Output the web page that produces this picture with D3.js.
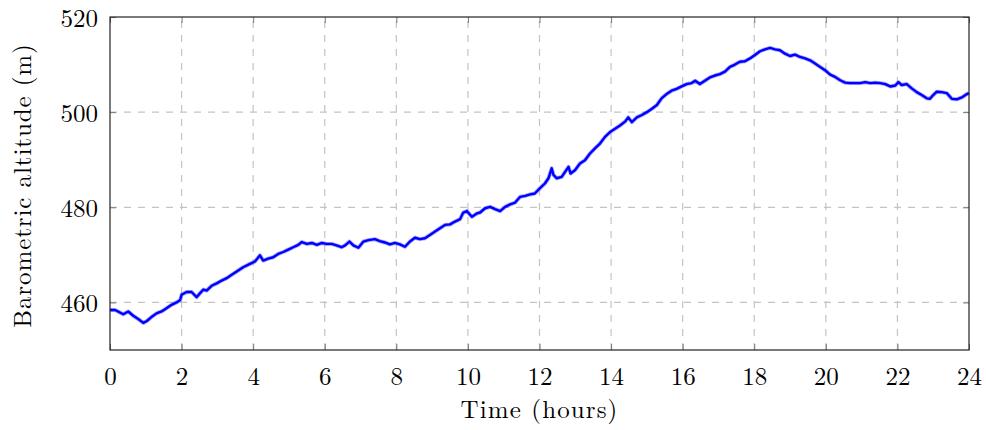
<!DOCTYPE html>
<html>
<head>
<meta charset="utf-8">
<script src="https://cdn.jsdelivr.net/npm/d3@7"></script>
<style>
  body { margin: 0; background: #fff; }
  svg { display: block; }
  text { font-family: "Latin Modern Roman", "Liberation Serif", "Times New Roman", serif; fill: #000; }
</style>
</head>
<body>
<script>
// time in hours and barometric altitude in metres
var hours = [
  0.00, 0.14, 0.25, 0.37, 0.51, 0.65, 0.79, 0.93, 1.03, 1.17, 1.30, 1.44, 1.58, 1.72, 1.86, 1.96,
  2.00, 2.14, 2.28, 2.42, 2.51, 2.61, 2.70, 2.84, 2.98, 3.12, 3.26, 3.40, 3.54, 3.72, 3.91,
  4.05, 4.19, 4.28, 4.42, 4.56, 4.70, 4.84, 4.98, 5.12, 5.26, 5.36, 5.50, 5.64, 5.78, 5.92,
  6.05, 6.19, 6.33, 6.47, 6.57, 6.69, 6.80, 6.94, 7.08, 7.22, 7.40, 7.54, 7.68, 7.82, 7.96,
  8.10, 8.24, 8.38, 8.52, 8.66, 8.80, 8.94, 9.08, 9.22, 9.36, 9.50, 9.64, 9.78, 9.87, 9.97,
  10.11, 10.25, 10.34, 10.48, 10.62, 10.76, 10.90, 11.04, 11.18, 11.32, 11.46, 11.60, 11.74, 11.87,
  12.01, 12.15, 12.25, 12.34, 12.39, 12.48, 12.62, 12.71, 12.81, 12.87, 12.99, 13.13, 13.27, 13.41,
  13.55, 13.69, 13.83, 13.97, 14.11, 14.25, 14.39, 14.48, 14.58, 14.72, 14.86, 15.00, 15.14, 15.28,
  15.41, 15.55, 15.69, 15.83, 15.97, 16.11, 16.25, 16.35, 16.48, 16.62, 16.76, 16.90, 17.04, 17.18,
  17.32, 17.46, 17.60, 17.74, 17.88, 18.02, 18.16, 18.30, 18.44, 18.58, 18.72, 18.86, 19.00, 19.14,
  19.28, 19.42, 19.56, 19.70, 19.84, 19.98, 20.12, 20.26, 20.40, 20.54, 20.68, 20.82, 20.96, 21.10,
  21.24, 21.38, 21.52, 21.66, 21.80, 21.94, 22.03, 22.12, 22.26, 22.40, 22.54, 22.68, 22.82, 22.91,
  23.00, 23.10, 23.24, 23.38, 23.52, 23.66, 23.80, 23.94, 24.00
];
var altitude = [
  458.4, 458.4, 458.0, 457.5, 458.1, 457.2, 456.5, 455.7, 456.1, 457.0, 457.7, 458.1, 458.8, 459.5, 460.0, 460.5,
  461.6, 462.2, 462.2, 461.1, 461.9, 462.7, 462.5, 463.5, 464.0, 464.6, 465.1, 465.8, 466.5, 467.4, 468.1,
  468.6, 469.9, 468.8, 469.2, 469.5, 470.2, 470.6, 471.1, 471.6, 472.1, 472.7, 472.3, 472.5, 472.1, 472.5,
  472.3, 472.3, 472.0, 471.6, 472.0, 472.8, 472.0, 471.5, 472.8, 473.1, 473.3, 472.9, 472.6, 472.2, 472.5,
  472.2, 471.7, 472.8, 473.6, 473.3, 473.5, 474.2, 474.9, 475.6, 476.3, 476.4, 477.0, 477.5, 478.9, 479.2,
  478.0, 478.7, 478.9, 479.8, 480.1, 479.6, 479.2, 480.1, 480.6, 481.0, 482.2, 482.4, 482.7, 482.9,
  484.0, 485.0, 486.1, 488.2, 486.8, 486.1, 486.4, 487.4, 488.5, 487.1, 487.8, 489.2, 489.9, 491.3,
  492.4, 493.4, 494.8, 495.8, 496.5, 497.2, 498.0, 498.9, 497.9, 498.9, 499.4, 500.0, 500.7, 501.5,
  502.9, 503.8, 504.5, 504.9, 505.4, 505.9, 506.1, 506.6, 505.9, 506.6, 507.3, 507.7, 508.0, 508.5,
  509.5, 510.0, 510.6, 510.7, 511.3, 512.0, 512.8, 513.2, 513.5, 513.2, 513.0, 512.3, 511.8, 512.1,
  511.6, 511.3, 510.9, 510.2, 509.5, 508.8, 507.9, 507.4, 506.7, 506.2, 506.1, 506.1, 506.1, 506.3,
  506.1, 506.2, 506.1, 505.9, 505.4, 505.6, 506.3, 505.7, 505.9, 505.0, 504.2, 503.6, 502.9, 502.8,
  503.6, 504.3, 504.2, 504.0, 502.8, 502.7, 503.1, 503.8, 504.0
];
var xTicks = [0, 2, 4, 6, 8, 10, 12, 14, 16, 18, 20, 22, 24];
var yTicks = [460, 480, 500, 520];

function init() {
    var w = 986;
    var h = 430;
    var margin = { top: 17, right: 17, bottom: 80, left: 110 };
    var iw = w - margin.left - margin.right;
    var ih = h - margin.top - margin.bottom;

    var xScale = d3.scaleLinear().domain([0, 24]).range([0, iw]);
    var yScale = d3.scaleLinear().domain([450, 520]).range([ih, 0]);

    var svg = d3.select("body")
                .append("svg")
                .attr("width", w)
                .attr("height", h);

    var g = svg.append("g")
               .attr("transform", "translate(" + margin.left + "," + margin.top + ")");

    // dashed grid
    g.selectAll(".vgrid")
     .data(xTicks.slice(1, -1))
     .enter()
     .append("line")
     .attr("x1", function(d) { return xScale(d); })
     .attr("x2", function(d) { return xScale(d); })
     .attr("y1", ih)
     .attr("y2", 0)
     .attr("stroke", "#c4c4c4")
     .attr("stroke-width", 1.2)
     .attr("stroke-dasharray", "7,7");

    g.selectAll(".hgrid")
     .data(yTicks.slice(0, -1))
     .enter()
     .append("line")
     .attr("x1", 0)
     .attr("x2", iw)
     .attr("y1", function(d) { return yScale(d); })
     .attr("y2", function(d) { return yScale(d); })
     .attr("stroke", "#c4c4c4")
     .attr("stroke-width", 1.2)
     .attr("stroke-dasharray", "7,7");

    // axes (ticks point inward, labels drawn by the axis)
    var xAxis = d3.axisBottom(xScale).tickValues(xTicks).tickSizeInner(-6).tickSizeOuter(0).tickPadding(12);
    var yAxis = d3.axisLeft(yScale).tickValues(yTicks).tickSizeInner(-6).tickSizeOuter(0).tickPadding(12);
    var xTop = d3.axisTop(xScale).tickValues(xTicks).tickSizeInner(-6).tickSizeOuter(0).tickFormat("");
    var yRight = d3.axisRight(yScale).tickValues(yTicks).tickSizeInner(-6).tickSizeOuter(0).tickFormat("");

    var gx = g.append("g").attr("transform", "translate(0," + ih + ")").call(xAxis);
    var gy = g.append("g").call(yAxis);
    var gt = g.append("g").call(xTop);
    var gr = g.append("g").attr("transform", "translate(" + iw + ",0)").call(yRight);

    [gx, gy, gt, gr].forEach(function(a) {
        a.select(".domain").remove();
        a.selectAll(".tick line").attr("stroke", "#777").attr("stroke-width", 1);
        a.selectAll(".tick text")
         .style("font-family", '"Latin Modern Roman", "Liberation Serif", serif')
         .style("font-size", "25px")
         .attr("fill", "#000");
    });
    gx.selectAll(".tick text").attr("dy", "0.9em");
    gy.selectAll(".tick text").attr("dy", "0.36em");

    // the series: a soft halo under a solid stroke, like the noisy trace
    var line = d3.line()
                 .x(function(d, i) { return xScale(hours[i]); })
                 .y(function(d) { return yScale(d); });

    g.append("path")
     .datum(altitude)
     .attr("d", line)
     .attr("fill", "none")
     .attr("stroke", "#0000ff")
     .attr("stroke-opacity", 0.35)
     .attr("stroke-width", 4)
     .attr("stroke-linejoin", "round");

    g.append("path")
     .datum(altitude)
     .attr("d", line)
     .attr("fill", "none")
     .attr("stroke", "#0000ff")
     .attr("stroke-width", 2.4)
     .attr("stroke-linejoin", "round");

    // frame
    g.append("rect")
     .attr("x", 0)
     .attr("y", 0)
     .attr("width", iw)
     .attr("height", ih)
     .attr("fill", "none")
     .attr("stroke", "#222")
     .attr("stroke-width", 1.2);

    // axis titles
    svg.append("text")
       .attr("x", margin.left + iw / 2)
       .attr("y", 418)
       .attr("text-anchor", "middle")
       .style("font-size", "25px")
       .style("letter-spacing", "1.1px")
       .text("Time (hours)");

    svg.append("text")
       .attr("transform", "translate(31," + (margin.top + ih / 2 + 2) + ") rotate(-90)")
       .attr("text-anchor", "middle")
       .style("font-size", "25px")
       .style("letter-spacing", "0.9px")
       .text("Barometric altitude (m)");
}
window.onload = init;
</script>
</body>
</html>
